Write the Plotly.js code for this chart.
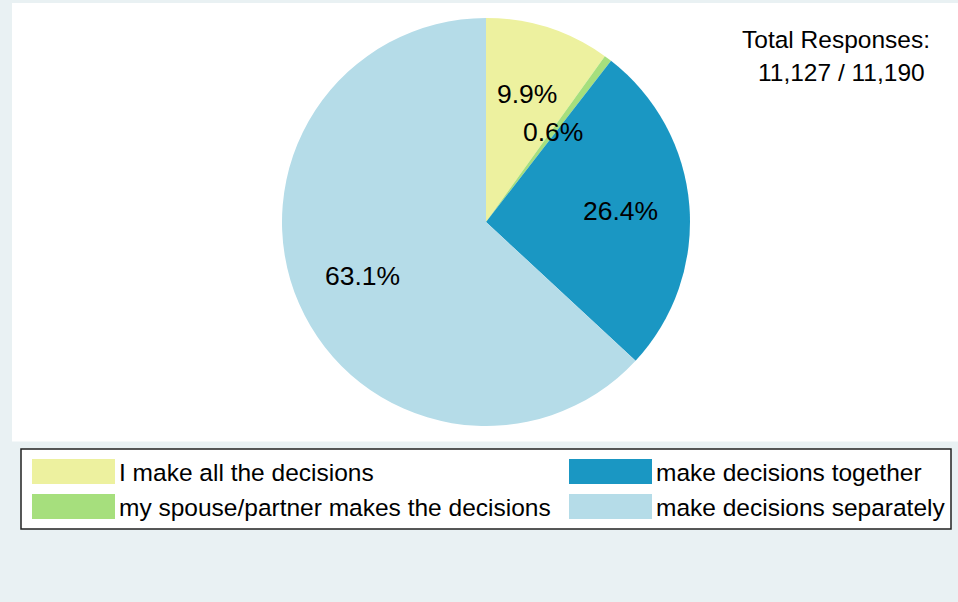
<!DOCTYPE html>
<html>
<head>
<meta charset="utf-8">
<script src="https://cdn.plot.ly/plotly-3.0.1.min.js"></script>
<style>html,body{margin:0;padding:0;background:#e9f1f3;}#chart{width:958px;height:602px;}</style>
</head>
<body>
<div id="chart"></div>
<script>
// ---- data ----
var labels = ["I make all the decisions", "my spouse/partner makes the decisions", "make decisions together", "make decisions separately"];
var values = [9.9, 0.6, 26.4, 63.1];
var colors = ["#edf19f", "#a6df7d", "#1a97c3", "#b5dce8"];
var totalLines = ["Total Responses:", "11,127 / 11,190"];

// ---- layout constants ----
var W = 958, H = 602;
var FONT = "Liberation Sans, Arial, sans-serif";
var cxPx = 486, cyPx = 222, rPx = 204;
var domX = [(cxPx - rPx) / W, (cxPx + rPx) / W];
var domY = [1 - (cyPx + rPx) / H, 1 - (cyPx - rPx) / H];

var total = values.reduce(function (a, b) { return a + b; }, 0);
var annotations = [];
var cum = 0;
values.forEach(function (v) {
  var f = v / total;
  var mid = (cum + f / 2) * 2 * Math.PI;
  cum += f;
  var rr = (f < 0.02 ? 0.55 : 0.66) * rPx;
  var px = cxPx + rr * Math.sin(mid);
  var py = cyPx - rr * Math.cos(mid);
  annotations.push({
    xref: "paper", yref: "paper", x: px / W, y: 1 - py / H,
    xanchor: "center", yanchor: "middle", showarrow: false,
    text: v.toFixed(1) + "%", font: {family: FONT, size: 26.5, color: "#000"}
  });
});

// total responses
annotations.push({xref: "paper", yref: "paper", x: 835.5 / W, y: 1 - 40 / H, xanchor: "center", yanchor: "middle",
  showarrow: false, text: totalLines[0], font: {family: FONT, size: 24.5, color: "#000"}});
annotations.push({xref: "paper", yref: "paper", x: 841.5 / W, y: 1 - 73 / H, xanchor: "center", yanchor: "middle",
  showarrow: false, text: totalLines[1], font: {family: FONT, size: 24.5, color: "#000"}});

var shapes = [
  // white plot region
  {type: "rect", xref: "paper", yref: "paper", x0: 12 / W, x1: 1.01, y0: 1 - 441.5 / H, y1: 1 - 3 / H,
    fillcolor: "#ffffff", line: {width: 0}, layer: "below"},
  // legend box
  {type: "rect", xref: "paper", yref: "paper", x0: 21 / W, x1: 951 / W, y0: 1 - 529 / H, y1: 1 - 449 / H,
    fillcolor: "#ffffff", line: {color: "#222222", width: 1.5}, layer: "below"}
];

// legend entries: two columns, two rows
var colSwatch = [32, 569], colText = [117, 654];
var rowTop = [459, 494], swH = 25, swW = 83;
labels.forEach(function (lab, i) {
  var c = Math.floor(i / 2), r = i % 2;
  shapes.push({type: "rect", xref: "paper", yref: "paper",
    x0: colSwatch[c] / W, x1: (colSwatch[c] + swW) / W,
    y0: 1 - (rowTop[r] + swH) / H, y1: 1 - rowTop[r] / H,
    fillcolor: colors[i], line: {width: 0}, layer: "above"});
  annotations.push({xref: "paper", yref: "paper", x: colText[c] / W, y: 1 - (rowTop[r] + swH / 2 + 1) / H,
    xanchor: "left", yanchor: "middle", showarrow: false, text: lab,
    font: {family: FONT, size: 24.5, color: "#000"}});
});

var data = [{
  type: "pie", labels: labels, values: values, sort: false, direction: "clockwise", rotation: 0,
  marker: {colors: colors, line: {width: 0}}, textinfo: "none", hoverinfo: "label+percent",
  domain: {x: domX, y: domY}, showlegend: false
}];

var layout = {
  width: W, height: H, margin: {l: 0, r: 0, t: 0, b: 0},
  paper_bgcolor: "#e9f1f3", plot_bgcolor: "#e9f1f3",
  showlegend: false, shapes: shapes, annotations: annotations,
  font: {family: FONT}
};

Plotly.newPlot("chart", data, layout, {displayModeBar: false, staticPlot: true});
</script>
</body>
</html>
